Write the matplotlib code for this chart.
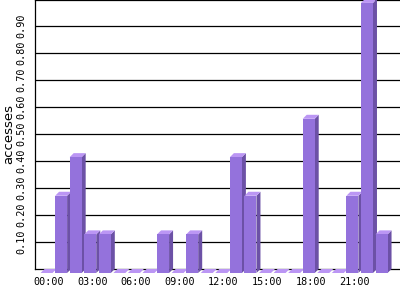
import matplotlib
matplotlib.use("Agg")
import matplotlib.pyplot as plt
from matplotlib.patches import Polygon

hours = list(range(24))
values = [0, 0.286, 0.429, 0.143, 0.143, 0, 0, 0, 0.143, 0, 0.143, 0, 0,
          0.429, 0.286, 0, 0, 0, 0.571, 0, 0, 0.286, 1.0, 0.143]
xtick_pos = [0, 3, 6, 9, 12, 15, 18, 21]
xtick_labels = ["00:00", "03:00", "06:00", "09:00", "12:00", "15:00", "18:00", "21:00"]
ytick_vals = [0.1, 0.2, 0.3, 0.4, 0.5, 0.6, 0.7, 0.8, 0.9]
ytick_labels = ["0.10", "0.20", "0.30", "0.40", "0.50", "0.60", "0.70", "0.80", "0.90"]

W, H = 400, 300
fig = plt.figure(figsize=(W / 100, H / 100), dpi=100)
L, B, R, T = 35, 31, 400, 300
ax = fig.add_axes([L / W, B / H, (R - L) / W, (T - B) / H])

xlim = (-0.93, 24.13)
ylim = (0, 0.996)
ax.set_xlim(*xlim)
ax.set_ylim(*ylim)

ax_w_px = (R - L)
ax_h_px = (T - B)
px_x = (xlim[1] - xlim[0]) / ax_w_px
px_y = (ylim[1] - ylim[0]) / ax_h_px
depth = 4
ddx = depth * px_x
ddy = depth * px_y
w = 12 * px_x

front_c = "#9472dc"
side_c = "#6c51a6"
top_c = "#bb96f4"

for y in ytick_vals:
    ax.axhline(y, color="black", lw=0.9, zorder=1)

for h, v in zip(hours, values):
    fx0 = h - w / 2 - ddx / 2
    fx1 = fx0 + w
    fy0 = -ddy
    fy1 = v - ddy
    side = Polygon([(fx1, fy0), (fx1 + ddx, fy0 + ddy), (fx1 + ddx, fy1 + ddy), (fx1, fy1)],
                   closed=True, facecolor=side_c, edgecolor="none", clip_on=False, zorder=3)
    top = Polygon([(fx0, fy1), (fx1, fy1), (fx1 + ddx, fy1 + ddy), (fx0 + ddx, fy1 + ddy)],
                  closed=True, facecolor=top_c, edgecolor="none", clip_on=False, zorder=3)
    front = Polygon([(fx0, fy0), (fx1, fy0), (fx1, fy1), (fx0, fy1)],
                    closed=True, facecolor=front_c, edgecolor="none", clip_on=False, zorder=3)
    ax.add_patch(side)
    ax.add_patch(top)
    ax.add_patch(front)

for s in ["left", "bottom", "top"]:
    ax.spines[s].set_color("black")
    ax.spines[s].set_linewidth(0.9)
    ax.spines[s].set_zorder(2)
ax.spines["right"].set_visible(False)

ax.set_xticks(xtick_pos)
ax.set_xticklabels(xtick_labels, fontfamily="DejaVu Sans Mono", fontsize=7.3)
ax.set_yticks(ytick_vals)
ax.set_yticklabels(ytick_labels, fontfamily="DejaVu Sans Mono", fontsize=7.3,
                   rotation=90, va="center")
ax.tick_params(axis="x", length=0, pad=6)
ax.tick_params(axis="y", length=0, pad=6)
ax.set_ylabel("accesses", fontsize=9.5)
ax.yaxis.set_label_coords(-(L - 9) / ax_w_px, 0.5)
ax.yaxis.label.set_va("center")

fig.savefig("out.png", dpi=100)
